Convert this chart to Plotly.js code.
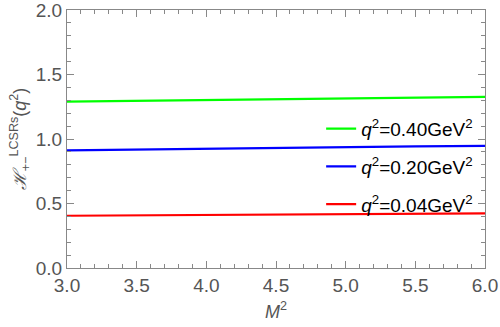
<!DOCTYPE html>
<html>
<head>
<meta charset="utf-8">
<script src="https://cdn.plot.ly/plotly-3.0.1.min.js"></script>
<style>
  html, body { margin: 0; padding: 0; background: #fff; }
  #chart { width: 500px; height: 327px; }
</style>
</head>
<body>
<div id="chart"></div>
<script>
var m2 = [3.0, 3.5, 4.0, 4.5, 5.0, 5.5, 6.0];
var h040 = [1.290, 1.297, 1.304, 1.310, 1.316, 1.322, 1.327];
var h020 = [0.912, 0.919, 0.926, 0.932, 0.938, 0.943, 0.947];
var h004 = [0.405, 0.409, 0.412, 0.415, 0.418, 0.421, 0.424];
var yTicks = [0, 0.5, 1.0, 1.5, 2.0];
var yTickText = ['0.0', '0.5', '1.0', '1.5', '2.0'];

var fam = 'Liberation Sans, Arial, sans-serif';
var tickFont = { family: fam, size: 19, color: '#555' };

var q040 = {
  x: m2, y: h040, mode: 'lines', legendgroup: 'a',
  name: '<i>q</i><sup>2</sup>=0.40GeV<sup>2</sup>',
  line: { color: '#00ff00', width: 2.2 }
};
var q020 = {
  x: m2, y: h020, mode: 'lines', legendgroup: 'b',
  name: '<i>q</i><sup>2</sup>=0.20GeV<sup>2</sup>',
  line: { color: '#0000ff', width: 2.2 }
};
var q004 = {
  x: m2, y: h004, mode: 'lines', legendgroup: 'c',
  name: '<i>q</i><sup>2</sup>=0.04GeV<sup>2</sup>',
  line: { color: '#ff0000', width: 2.2 }
};

var layout = {
  width: 500, height: 327,
  margin: { l: 67, r: 15, t: 10, b: 59 },
  paper_bgcolor: '#fff', plot_bgcolor: '#fff',
  showlegend: true,
  legend: {
    x: 0.608, y: 0.613, xanchor: 'left', yanchor: 'top',
    bgcolor: 'rgba(0,0,0,0)',
    font: { family: fam, size: 19, color: '#000' },
    traceorder: 'grouped',
    tracegroupgap: 10,
    itemwidth: 30
  },
  xaxis: {
    range: [3.0, 6.0], dtick: 0.5, tickformat: '.1f',
    showgrid: false, zeroline: false,
    showline: true, linecolor: '#888', linewidth: 1, mirror: 'ticks',
    ticks: 'inside', ticklen: 7, tickcolor: '#888',
    minor: { dtick: 0.1, ticks: 'inside', ticklen: 4, tickcolor: '#888' },
    tickfont: tickFont,
    title: { text: '<i>M</i><sup>2</sup>', font: { family: fam, size: 18, color: '#555' }, standoff: 10 }
  },
  yaxis: {
    range: [0, 2.0001], tickmode: 'array', tickvals: yTicks, ticktext: yTickText,
    ticklabeloverflow: 'allow',
    showgrid: false, zeroline: false,
    showline: true, linecolor: '#888', linewidth: 1, mirror: 'ticks',
    ticks: 'inside', ticklen: 7, tickcolor: '#888',
    minor: { dtick: 0.1, ticks: 'inside', ticklen: 4, tickcolor: '#888' },
    tickfont: tickFont,
    title: { text: '<i>ℋ</i><sub>+−</sub><sup>LCSRs</sup>(<i>q</i><sup>2</sup>)', font: { family: fam, size: 18, color: '#555' }, standoff: 4 }
  }
};

Plotly.newPlot('chart', [q040, q020, q004], layout, { displayModeBar: false, staticPlot: true });
</script>
</body>
</html>
